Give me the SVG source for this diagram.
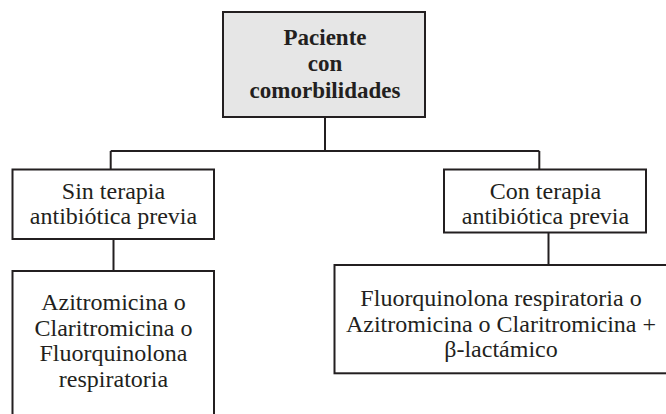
<svg xmlns="http://www.w3.org/2000/svg" width="666" height="414" viewBox="0 0 666 414">
  <style>
    .box { fill: #ffffff; stroke: #231f20; stroke-width: 2; }
    .root { fill: #e6e6e6; stroke: #231f20; stroke-width: 2; }
    .conn { fill: none; stroke: #231f20; stroke-width: 2; }
    .t { font-family: "Liberation Serif", "Times New Roman", serif; font-size: 24px; fill: #231f20; text-anchor: middle; }
    .tb { font-family: "Liberation Serif", "Times New Roman", serif; font-size: 23px; font-weight: bold; fill: #231f20; text-anchor: middle; }
  </style>
  <rect width="666" height="414" fill="#ffffff"/>
  <g id="connectors">
    <path class="conn" d="M325 117 V151"/>
    <path class="conn" d="M110.7 151 H539.3"/>
    <path class="conn" d="M110.7 151 V169.5"/>
    <path class="conn" d="M539.3 151 V169.5"/>
    <path class="conn" d="M113.5 239 V271"/>
    <path class="conn" d="M548.5 232 V265"/>
  </g>
  <g id="root">
    <rect class="root" x="223" y="12" width="202" height="105"/>
    <text class="tb" x="325" y="45">Paciente</text>
    <text class="tb" x="325" y="71">con</text>
    <text class="tb" x="325" y="97.5">comorbilidades</text>
  </g>
  <g id="sin">
    <rect class="box" x="12.5" y="169.5" width="201.5" height="69.5"/>
    <text class="t" x="113.5" y="199">Sin terapia</text>
    <text class="t" x="113.5" y="223.5">antibiótica previa</text>
  </g>
  <g id="con">
    <rect class="box" x="444" y="169.5" width="202" height="63"/>
    <text class="t" x="545.5" y="199">Con terapia</text>
    <text class="t" x="545.5" y="223.5">antibiótica previa</text>
  </g>
  <g id="sin-tx">
    <rect class="box" x="12.5" y="271" width="201.5" height="160"/>
    <text class="t" x="113.5" y="310">Azitromicina o</text>
    <text class="t" x="113.5" y="335.5">Claritromicina o</text>
    <text class="t" x="113.5" y="361">Fluorquinolona</text>
    <text class="t" x="113.5" y="386.5">respiratoria</text>
  </g>
  <g id="con-tx">
    <rect class="box" x="334.5" y="265" width="340" height="108.3"/>
    <text class="t" x="501" y="306">Fluorquinolona respiratoria o</text>
    <text class="t" x="501" y="331.5">Azitromicina o Claritromicina +</text>
    <text class="t" x="501" y="357">β-lactámico</text>
  </g>
</svg>
